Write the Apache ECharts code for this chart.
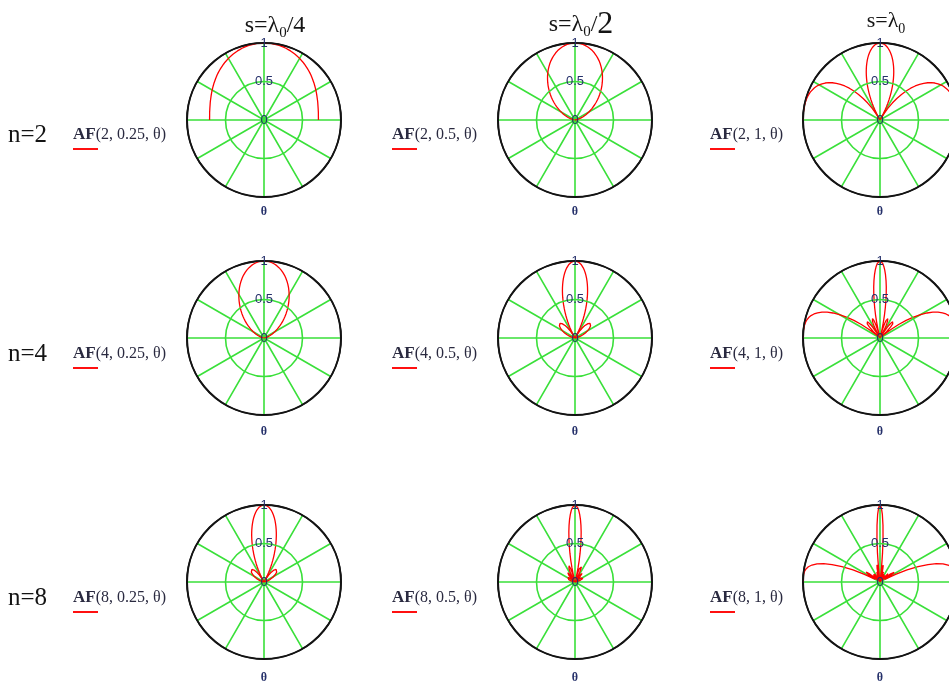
<!DOCTYPE html>
<html>
<head>
<meta charset="utf-8">
<title>Array factor polar plots</title>
<script src="https://cdn.jsdelivr.net/npm/echarts@6/dist/echarts.min.js"></script>
<style>
  html, body { margin: 0; padding: 0; background: #fff; }
  #chart { width: 949px; height: 684px; }
</style>
</head>
<body>
<div id="chart"></div>
<script>
// θ in degrees (0..90). every pattern is symmetric about 90°, the 90..180 half is mirrored below
const theta = [0, 2, 4, 6, 8, 10, 12, 14, 16, 18, 20, 22, 24, 26, 28, 30, 32, 34, 36, 38, 40, 42, 44, 46, 48, 50, 52, 54, 56, 58, 60,
  61, 62, 63, 64, 65, 66, 67, 68, 69, 70, 71, 72, 73, 74, 75, 76, 77, 78, 79, 80, 81, 82, 83, 84, 85, 86, 87, 88, 89, 90];

// AF(n, s, θ), one list per panel
const af_n2_s025 = [.707, .707, .708, .710, .713, .716, .719, .723, .728, .734, .740, .746, .753, .761, .769, .777, .786, .795, .805, .814, .824, .834, .845, .855, .865, .875, .885, .895, .905, .915, .924,
  .928, .933, .937, .941, .945, .949, .953, .957, .961, .964, .967, .971, .974, .977, .979, .982, .984, .987, .989, .991, .992, .994, .995, .997, .998, .998, .999, 1, 1, 1];
const af_n2_s05 = [0, .001, .004, .009, .015, .024, .034, .047, .061, .077, .095, .114, .135, .158, .183, .209, .236, .265, .296, .327, .359, .393, .427, .461, .497, .532, .568, .603, .638, .673, .707,
  .724, .740, .756, .772, .788, .803, .817, .832, .846, .859, .872, .884, .896, .908, .918, .929, .938, .947, .955, .963, .970, .976, .982, .987, .991, .994, .997, .999, 1, 1];
const af_n2_s1 = [1, 1, 1, 1, 1, .999, .998, .996, .993, .988, .982, .974, .963, .950, .933, .913, .888, .859, .825, .786, .742, .692, .636, .574, .507, .434, .355, .272, .185, .094, 0,
  .048, .096, .144, .192, .241, .289, .337, .384, .430, .476, .521, .565, .607, .648, .687, .725, .760, .794, .826, .855, .882, .906, .928, .947, .963, .976, .986, .994, .998, 1];

const af_n4_s025 = [0, .001, .003, .006, .011, .017, .025, .034, .044, .056, .070, .085, .102, .120, .141, .162, .186, .211, .238, .266, .296, .328, .360, .394, .430, .466, .503, .540, .578, .616, .653,
  .672, .690, .709, .727, .745, .762, .779, .796, .812, .828, .844, .859, .873, .886, .900, .912, .924, .934, .945, .954, .963, .970, .977, .983, .988, .993, .996, .998, 1, 1];
const af_n4_s05 = [0, .001, .004, .009, .015, .024, .034, .046, .060, .076, .093, .111, .130, .150, .171, .191, .210, .228, .244, .257, .267, .272, .271, .265, .252, .231, .202, .164, .118, .063, 0,
  .035, .071, .109, .149, .190, .232, .275, .319, .364, .409, .454, .499, .544, .588, .631, .673, .713, .752, .789, .823, .855, .884, .911, .934, .954, .970, .983, .993, .998, 1];
const af_n4_s1 = [1, 1, 1, .999, .998, .994, .988, .978, .963, .942, .912, .874, .825, .764, .692, .608, .513, .409, .299, .186, .075, .030, .122, .196, .247, .271, .266, .232, .172, .092, 0,
  .047, .094, .138, .178, .213, .241, .260, .271, .271, .260, .238, .205, .160, .104, .038, .037, .119, .208, .300, .395, .489, .581, .669, .750, .822, .884, .934, .970, .993, 1];

const af_n8_s025 = [0, .001, .003, .006, .011, .017, .025, .034, .044, .056, .069, .083, .098, .114, .131, .148, .165, .181, .196, .209, .220, .227, .229, .226, .218, .202, .179, .147, .107, .058, 0,
  .032, .066, .102, .140, .179, .220, .262, .306, .350, .394, .440, .485, .530, .574, .618, .661, .702, .742, .780, .816, .849, .879, .906, .931, .951, .969, .982, .992, .998, 1];
const af_n8_s05 = [0, .001, .004, .009, .015, .024, .034, .046, .059, .072, .086, .100, .112, .121, .127, .127, .121, .109, .088, .061, .027, .012, .052, .090, .122, .144, .151, .140, .110, .062, 0,
  .034, .070, .104, .138, .168, .193, .213, .225, .229, .224, .208, .181, .143, .094, .035, .034, .112, .197, .287, .380, .474, .567, .656, .739, .814, .878, .930, .969, .992, 1];
const af_n8_s1 = [1, 1, .999, .997, .990, .976, .951, .911, .851, .769, .663, .533, .384, .225, .069, .068, .171, .223, .221, .165, .073, .030, .113, .150, .130, .060, .031, .105, .127, .086, 0,
  .047, .087, .116, .127, .120, .093, .051, .001, .056, .105, .139, .151, .138, .099, .038, .037, .113, .179, .221, .226, .188, .103, .026, .191, .376, .565, .739, .878, .969, 1];

const nValues = [2, 4, 8];
const sValues = ['0.25', '0.5', '1'];
const afValues = [
  [af_n2_s025, af_n2_s05, af_n2_s1],
  [af_n4_s025, af_n4_s05, af_n4_s1],
  [af_n8_s025, af_n8_s05, af_n8_s1]
];
const radiusTicks = [0, 0.5, 1];

// layout
const colX = [264, 575, 880];
const rowY = [120, 338, 582];
const R = 77;
const labelX = [73, 392, 710];
const labelY = [135, 354, 598];
const thetaY = [212, 432, 678];

const serif = "'Liberation Serif', 'DejaVu Serif', serif";
const sans = "'Liberation Sans', 'DejaVu Sans', sans-serif";
const green = '#3ae03a';
const ink = '#141414';
const navy = '#25306a';

// full 0..180 curve; the angle axis starts at the top (so the radius labels sit on
// the vertical), so θ is shifted by -90° into the axis frame
function curve(vals) {
  const pts = theta.map((t, i) => [vals[i], t]);
  for (let i = theta.length - 2; i >= 0; i--) pts.push([vals[i], 180 - theta[i]]);
  return pts.map(p => [p[0], (p[1] + 270) % 360]);
}

const polar = [], angleAxis = [], radiusAxis = [], series = [];
const titles = [], graphic = [];

nValues.forEach((n, r) => {
  sValues.forEach((s, c) => {
    const idx = r * 3 + c;
    polar.push({ center: [colX[c], rowY[r]], radius: R });
    angleAxis.push({
      polarIndex: idx,
      type: 'value',
      min: 0, max: 360, interval: 30,
      startAngle: 90,
      clockwise: false,
      axisLine: { lineStyle: { color: ink, width: 2 } },
      axisTick: { show: false },
      axisLabel: { show: false },
      splitLine: { show: true, lineStyle: { color: green, width: 1.6 } }
    });
    radiusAxis.push({
      polarIndex: idx,
      type: 'value',
      min: radiusTicks[0], max: radiusTicks[2], interval: radiusTicks[1],
      axisLine: { show: false },
      axisTick: { show: false },
      // circles at 0, 0.5, 1 - the outer one stays black
      splitLine: { show: true, lineStyle: { color: [green, green, ink], width: 1.6 } },
      axisLabel: {
        show: true, margin: 0, align: 'center', verticalAlign: 'middle',
        padding: [6, 0, 0, 0],
        fontSize: 13, fontFamily: sans, color: navy
      },
      z: 5
    });
    series.push({
      type: 'line',
      coordinateSystem: 'polar',
      polarIndex: idx,
      showSymbol: false,
      symbol: 'none',
      lineStyle: { color: '#ff0000', width: 1.3 },
      data: curve(afValues[r][c]),
      z: 3
    });

    // AF(n, s, θ) label with red underline
    titles.push({
      text: '{b|AF}{n|(' + n + ', ' + s + ', θ)}',
      left: labelX[c], top: labelY[r], textAlign: 'left', textVerticalAlign: 'middle', padding: 0,
      textStyle: {
        fontWeight: 'normal',
        rich: {
          b: { fontSize: 17, fontWeight: 'bold', fontFamily: serif, color: '#2a2a40' },
          n: { fontSize: 16, fontWeight: 'normal', fontFamily: serif, color: '#2a2a40' }
        }
      }
    });
    graphic.push({
      type: 'rect',
      shape: { x: labelX[c], y: labelY[r] + 13, width: 25, height: 2 },
      style: { fill: '#ff1010' }
    });
    // θ under every plot
    titles.push({
      text: 'θ', left: colX[c], top: thetaY[r], textAlign: 'center', textVerticalAlign: 'middle', padding: 0,
      textStyle: { fontSize: 12, fontWeight: 'bold', fontFamily: serif, color: navy }
    });
  });
  titles.push({
    text: 'n=' + n, left: 8, top: labelY[r], textAlign: 'left', textVerticalAlign: 'middle', padding: 0,
    textStyle: { fontSize: 25, fontWeight: 'normal', fontFamily: serif, color: ink }
  });
});

// column headings
const headRich = (big) => ({
  a: { fontSize: big, fontWeight: 'normal', fontFamily: serif, color: ink, lineHeight: 30, verticalAlign: 'middle' },
  b: { fontSize: Math.round(big * 0.62), fontWeight: 'normal', fontFamily: serif, color: ink, lineHeight: 16, verticalAlign: 'bottom' },
  c: { fontSize: 32, fontWeight: 'normal', fontFamily: serif, color: ink, lineHeight: 30, verticalAlign: 'middle' }
});
titles.push({
  text: '{a|s=λ}{b|0}{a|/4}', left: 275, top: 26, textAlign: 'center', textVerticalAlign: 'middle', padding: 0,
  textStyle: { fontWeight: 'normal', rich: headRich(24) }
});
titles.push({
  text: '{a|s=λ}{b|0}{a|/}{c|2}', left: 581, top: 25, textAlign: 'center', textVerticalAlign: 'middle', padding: 0,
  textStyle: { fontWeight: 'normal', rich: headRich(24) }
});
titles.push({
  text: '{a|s=λ}{b|0}', left: 886, top: 21, textAlign: 'center', textVerticalAlign: 'middle', padding: 0,
  textStyle: { fontWeight: 'normal', rich: headRich(22) }
});

const chart = echarts.init(document.getElementById('chart'));
chart.setOption({
  animation: false,
  backgroundColor: '#ffffff',
  title: titles,
  polar: polar,
  angleAxis: angleAxis,
  radiusAxis: radiusAxis,
  series: series,
  graphic: graphic
});
</script>
</body>
</html>
